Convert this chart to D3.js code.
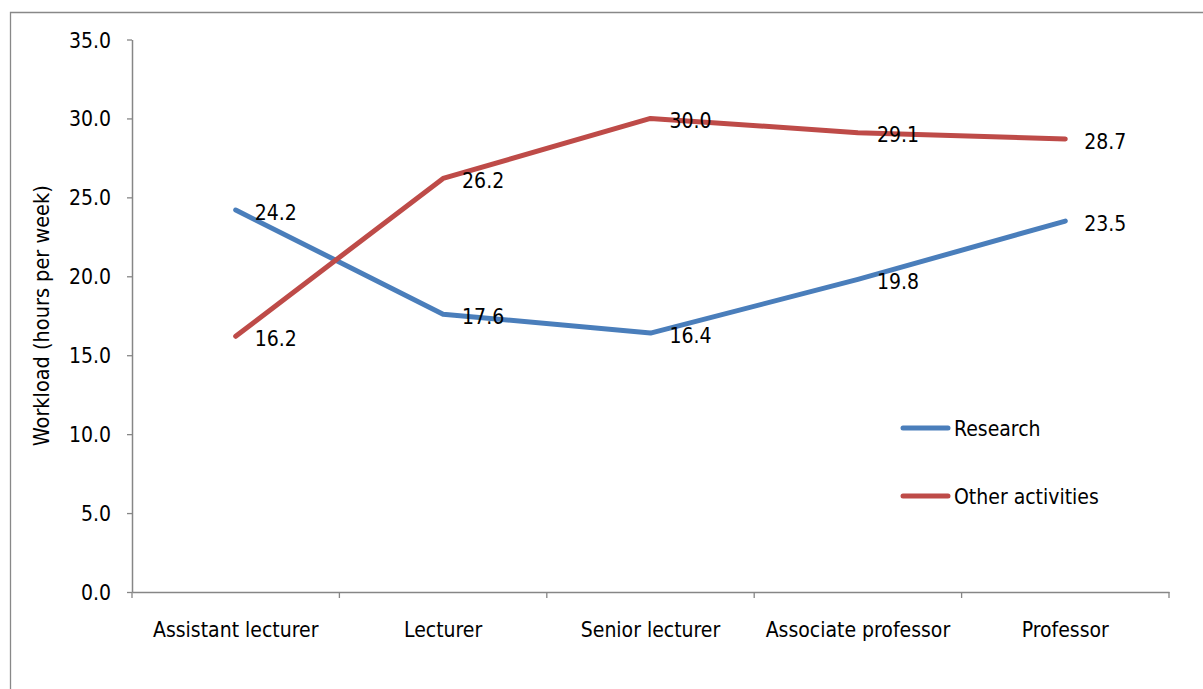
<!DOCTYPE html>
<html><head><meta charset="utf-8">
<script src="https://cdn.jsdelivr.net/npm/d3@7"></script>
<style>
html,body{margin:0;padding:0;background:#fff;}
svg{display:block;font-family:"DejaVu Sans Condensed","DejaVu Sans",sans-serif;}
</style></head>
<body><svg id="c" width="1203" height="689"></svg>
<script>
const categories = ["Assistant lecturer","Lecturer","Senior lecturer","Associate professor","Professor"];
const research = [24.2, 17.6, 16.4, 19.8, 23.5];
const other = [16.2, 26.2, 30.0, 29.1, 28.7];
const yTicks = [0,5,10,15,20,25,30,35];
const seriesNames = ["Research","Other activities"];
const seriesColors = ["#4a7ebb","#be4b48"];

const svg = d3.select("#c");
const fs = 21;
const ff = "DejaVu Sans Condensed, DejaVu Sans, sans-serif";
// frame
svg.append("path").attr("d","M10.5,700 L10.5,12.5 L1210,12.5").attr("fill","none").attr("stroke","#888").attr("stroke-width",1.3);

const x0 = 132, x1 = 1169, yTop = 39.5, yBot = 592;
const x = d3.scaleBand().domain(categories).range([x0,x1]).padding(0);
const y = d3.scaleLinear().domain([0,35]).range([yBot,yTop]);
const cx = c => x(c) + x.bandwidth()/2;

// y axis
const ya = svg.append("g").attr("transform",`translate(${x0},0)`)
  .call(d3.axisLeft(y).tickValues(yTicks).tickSize(5).tickSizeOuter(0).tickFormat(d3.format(".1f")));
ya.select(".domain").attr("stroke","#868686").attr("stroke-width",1.5);
ya.selectAll(".tick line").attr("stroke","#868686").attr("stroke-width",1.3);
ya.selectAll(".tick text").attr("font-size",fs).attr("font-family",ff).attr("fill","#000").attr("x",-21).attr("dy","0.36em");

// x axis
const xa = svg.append("g").attr("transform",`translate(0,${yBot})`)
  .call(d3.axisBottom(x).tickSize(0).tickSizeOuter(0));
xa.select(".domain").attr("stroke","#868686").attr("stroke-width",1.5);
xa.selectAll(".tick text").attr("font-size",fs).attr("font-family",ff).attr("fill","#000").attr("y",38).attr("dy","0.32em");
const bounds = categories.map(c=>x(c)).concat([x1]);
xa.selectAll(".bt").data(bounds).join("line").attr("class","bt")
  .attr("x1",d=>d).attr("x2",d=>d).attr("y1",0).attr("y2",6)
  .attr("stroke","#868686").attr("stroke-width",1.3);

// axis title
svg.append("text").attr("transform",`translate(49,${(yTop+yBot)/2}) rotate(-90)`)
  .attr("text-anchor","middle").attr("font-size",21.5).attr("font-family",ff).attr("fill","#000")
  .text("Workload (hours per week)");

// lines
const line = d3.line().x(d=>cx(d.c)).y(d=>y(d.v));
[research, other].forEach((vals,i)=>{
  const data = vals.map((v,j)=>({c:categories[j],v}));
  svg.append("path").datum(data).attr("d",line).attr("fill","none")
    .attr("stroke",seriesColors[i]).attr("stroke-width",5).attr("stroke-linejoin","round").attr("stroke-linecap","round");
});
[research, other].forEach((vals,i)=>{
  svg.append("g").selectAll("text").data(vals).join("text")
    .attr("x",(d,j)=>cx(categories[j])+19).attr("y",d=>y(d)+2).attr("dy","0.36em")
    .attr("font-size",fs).attr("font-family",ff).attr("fill","#000").text(d=>d3.format(".1f")(d));
});

// legend
const lg = svg.append("g");
seriesNames.forEach((n,i)=>{
  const ly = 428 + i*68;
  lg.append("line").attr("x1",903).attr("x2",948).attr("y1",ly).attr("y2",ly)
    .attr("stroke",seriesColors[i]).attr("stroke-width",5).attr("stroke-linecap","round");
  lg.append("text").attr("x",954).attr("y",ly).attr("dy","0.36em").attr("font-size",fs).attr("font-family",ff).attr("fill","#000").text(n);
});
</script></body></html>
